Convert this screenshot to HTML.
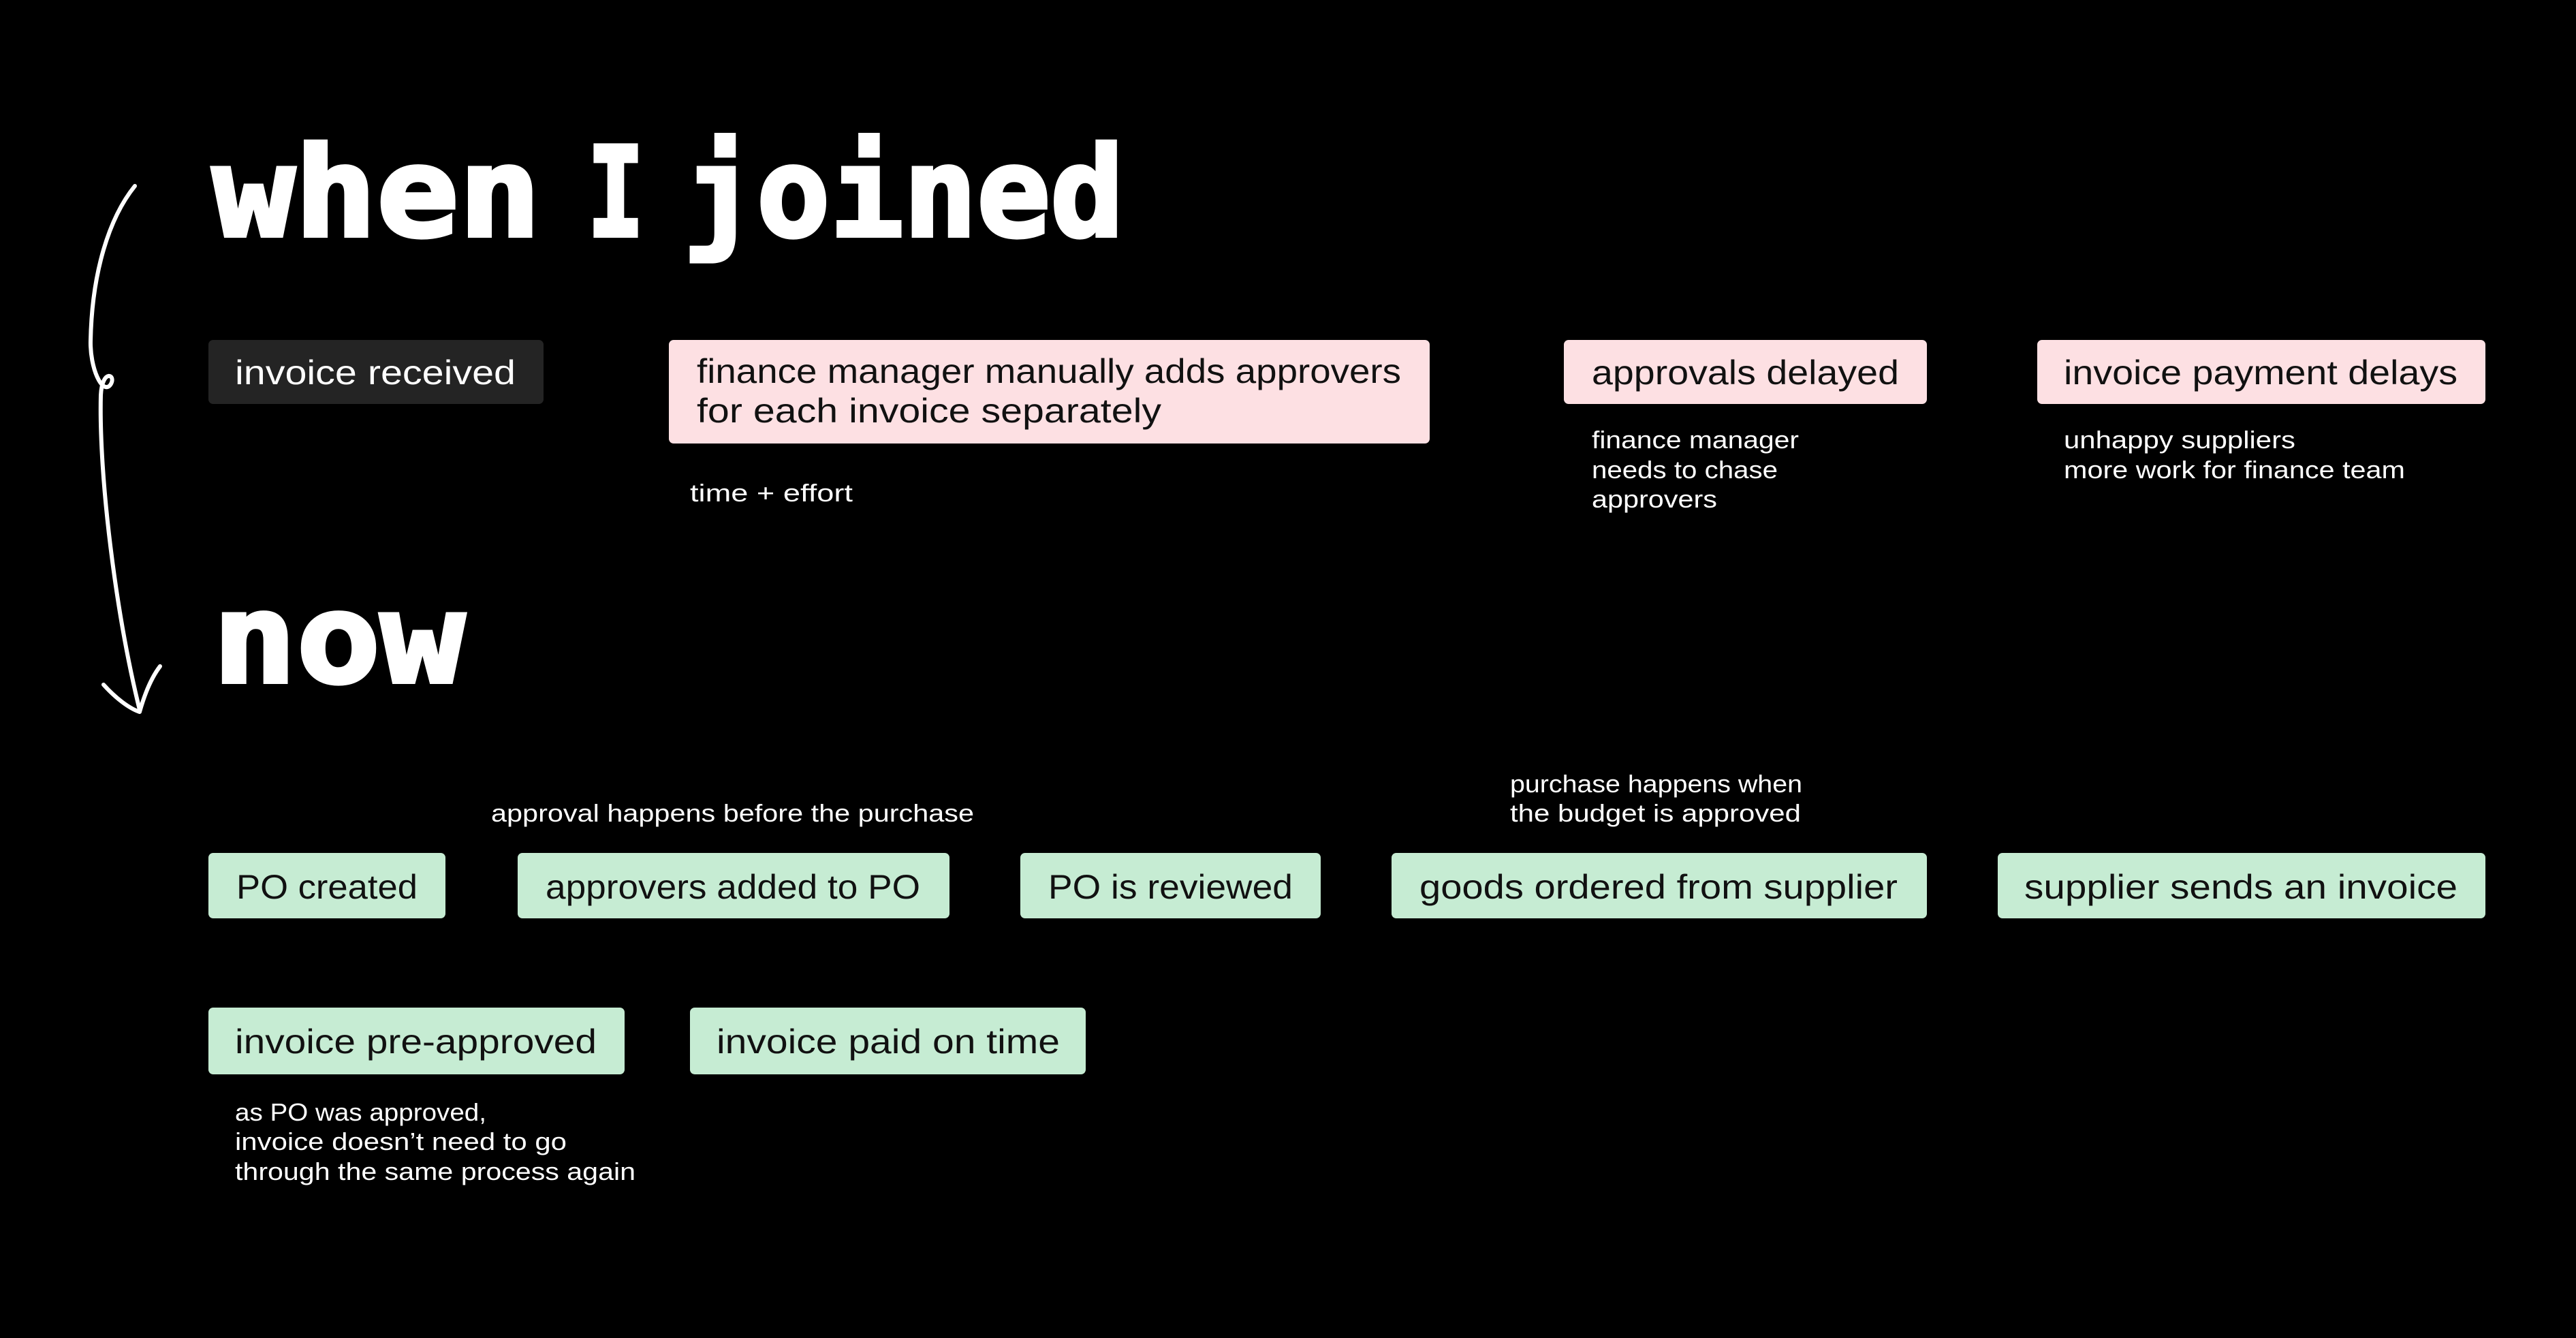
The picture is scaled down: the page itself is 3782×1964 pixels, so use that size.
<!DOCTYPE html>
<html><head><meta charset="utf-8"><style>
html,body{margin:0;padding:0;background:#000;}
svg{display:block}
.t{font-family:"DejaVu Sans Mono","Liberation Mono",monospace;font-weight:bold;fill:#fff;font-size:182px;stroke:#fff;stroke-width:6px}
.b{font-family:"Liberation Sans",sans-serif;font-size:50px;fill:#111}
.n{font-family:"Liberation Sans",sans-serif;font-size:36px;fill:#fff}
</style></head><body>
<svg width="3782" height="1964" viewBox="0 0 3782 1964" xmlns="http://www.w3.org/2000/svg">
<rect width="3782" height="1964" fill="#000"/>
<text class="t" x="312" y="346" textLength="482" lengthAdjust="spacingAndGlyphs">when</text>
<text class="t" x="862" y="346" textLength="84" lengthAdjust="spacingAndGlyphs">I</text>
<text class="t" x="1003" y="346" textLength="647" lengthAdjust="spacingAndGlyphs">joined</text>
<text class="t" x="312" y="1001" textLength="370" lengthAdjust="spacingAndGlyphs">now</text>

<path d="M198 273 C160 320 135 400 133 500 C132 540 150 580 162 565 C172 550 150 540 148 580 C145 700 170 900 205 1042" fill="none" stroke="#fff" stroke-width="6" stroke-linecap="round"/>
<path d="M152 1005 C170 1025 190 1040 205 1045 C212 1020 222 995 235 978" fill="none" stroke="#fff" stroke-width="6" stroke-linecap="round" stroke-linejoin="round"/>

<rect x="306" y="499" width="492" height="94" rx="7" fill="#242424"/>
<text class="b" style="fill:#fff" x="345" y="564" textLength="412" lengthAdjust="spacingAndGlyphs">invoice received</text>

<rect x="982" y="499" width="1117" height="152" rx="7" fill="#fde0e3"/>
<text class="b" x="1023" y="562" textLength="1034" lengthAdjust="spacingAndGlyphs">finance manager manually adds approvers</text>
<text class="b" x="1023" y="620" textLength="682" lengthAdjust="spacingAndGlyphs">for each invoice separately</text>

<rect x="2296" y="499" width="533" height="94" rx="7" fill="#fde0e3"/>
<text class="b" x="2337" y="564" textLength="451" lengthAdjust="spacingAndGlyphs">approvals delayed</text>

<rect x="2991" y="499" width="658" height="94" rx="7" fill="#fde0e3"/>
<text class="b" x="3030" y="564" textLength="578" lengthAdjust="spacingAndGlyphs">invoice payment delays</text>

<text class="n" x="1013" y="736" textLength="239" lengthAdjust="spacingAndGlyphs">time + effort</text>
<text class="n" x="2337" y="658" textLength="304" lengthAdjust="spacingAndGlyphs">finance manager</text>
<text class="n" x="2337" y="702" textLength="273" lengthAdjust="spacingAndGlyphs">needs to chase</text>
<text class="n" x="2337" y="745" textLength="184" lengthAdjust="spacingAndGlyphs">approvers</text>
<text class="n" x="3030" y="658" textLength="340" lengthAdjust="spacingAndGlyphs">unhappy suppliers</text>
<text class="n" x="3030" y="702" textLength="501" lengthAdjust="spacingAndGlyphs">more work for finance team</text>

<text class="n" x="721" y="1206" textLength="709" lengthAdjust="spacingAndGlyphs">approval happens before the purchase</text>
<text class="n" x="2217" y="1163" textLength="429" lengthAdjust="spacingAndGlyphs">purchase happens when</text>
<text class="n" x="2217" y="1206" textLength="427" lengthAdjust="spacingAndGlyphs">the budget is approved</text>

<g fill="#c6ecd3">
<rect x="306" y="1252" width="348" height="96" rx="7"/>
<rect x="760" y="1252" width="634" height="96" rx="7"/>
<rect x="1498" y="1252" width="441" height="96" rx="7"/>
<rect x="2043" y="1252" width="786" height="96" rx="7"/>
<rect x="2933" y="1252" width="716" height="96" rx="7"/>
<rect x="306" y="1479" width="611" height="98" rx="7"/>
<rect x="1013" y="1479" width="581" height="98" rx="7"/>
</g>
<text class="b" x="347" y="1319" textLength="266" lengthAdjust="spacingAndGlyphs">PO created</text>
<text class="b" x="801" y="1319" textLength="550" lengthAdjust="spacingAndGlyphs">approvers added to PO</text>
<text class="b" x="1539" y="1319" textLength="359" lengthAdjust="spacingAndGlyphs">PO is reviewed</text>
<text class="b" x="2084" y="1319" textLength="702" lengthAdjust="spacingAndGlyphs">goods ordered from supplier</text>
<text class="b" x="2972" y="1319" textLength="636" lengthAdjust="spacingAndGlyphs">supplier sends an invoice</text>
<text class="b" x="345" y="1546" textLength="531" lengthAdjust="spacingAndGlyphs">invoice pre-approved</text>
<text class="b" x="1052" y="1546" textLength="504" lengthAdjust="spacingAndGlyphs">invoice paid on time</text>

<text class="n" x="345" y="1645" textLength="369" lengthAdjust="spacingAndGlyphs">as PO was approved,</text>
<text class="n" x="345" y="1688" textLength="487" lengthAdjust="spacingAndGlyphs">invoice doesn’t need to go</text>
<text class="n" x="345" y="1732" textLength="588" lengthAdjust="spacingAndGlyphs">through the same process again</text>
</svg>
</body></html>
